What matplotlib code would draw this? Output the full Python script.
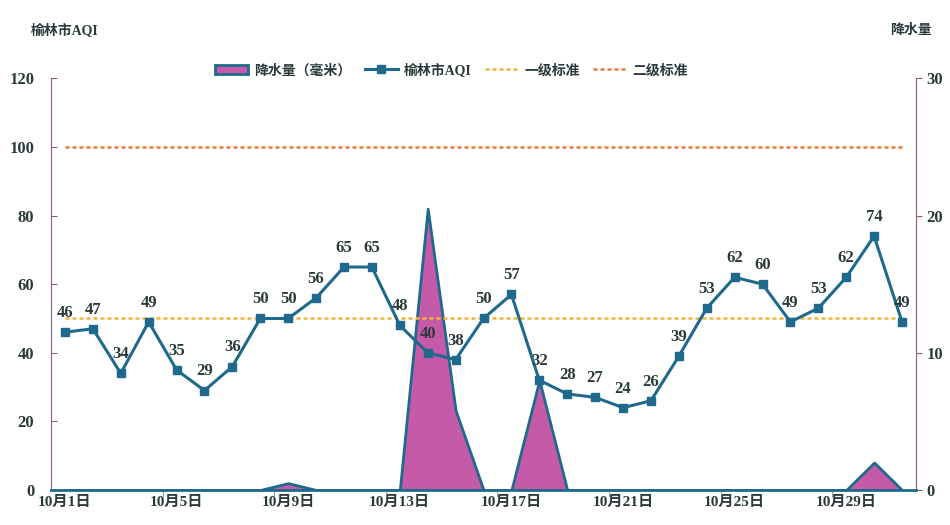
"""榆林市10月AQI与降水量对比图."""

import matplotlib.patches as mpatches
import matplotlib.pyplot as plt
import numpy as np

# 数据
dias = list(range(1, 32))
aqi = [46, 47, 34, 49, 35, 29, 36, 50, 50, 56, 65, 65, 48, 40, 38, 50,
       57, 32, 28, 27, 24, 26, 39, 53, 62, 60, 49, 53, 62, 74, 49]
chuva = [0, 0, 0, 0, 0, 0, 0, 0, 0.5, 0, 0, 0, 0, 20.5, 5.8, 0,
         0, 8.0, 0, 0, 0, 0, 0, 0, 0, 0, 0, 0, 0, 2.0, 0]
padrao_1 = [50] * 31
padrao_2 = [100] * 31
dias_rotulo = [1, 5, 9, 13, 17, 21, 25, 29]
rotulos_x = [f"10月{d}日" for d in dias_rotulo]

plt.rcParams["font.family"] = ["Liberation Serif", "Noto Sans CJK SC", "DejaVu Sans"]
plt.rcParams["font.weight"] = "bold"

cor_linha = "#1f6a8c"
cor_area = "#c45aa8"
cor_texto = "#2a3a3a"


def main() -> None:
    fig = plt.figure(figsize=(9.5, 5.25), dpi=100)
    ax1 = fig.add_axes([0.0537, 0.0667, 0.9105, 0.784])
    ax2 = ax1.twinx()

    # 降水量面积图放在底层
    ax2.fill_between(dias, chuva, color=cor_area, edgecolor=cor_linha,
                     linewidth=2.0, zorder=1)
    ax2.set_ylim(0, 30)
    ax2.set_yticks([0, 10, 20, 30])
    ax1.set_zorder(ax2.get_zorder() + 1)
    ax1.patch.set_visible(False)

    ax1.plot(dias, padrao_1, color="#f2b53a", linestyle=(0, (1.6, 1.2)),
             linewidth=1.8, label="一级标准", zorder=2)
    ax1.plot(dias, padrao_2, color="#ec7a35", linestyle=(0, (1.6, 1.2)),
             linewidth=1.8, label="二级标准", zorder=2)
    ax1.plot(dias, aqi, color=cor_linha, marker="s", markersize=6,
             linewidth=2.2, label="榆林市AQI", zorder=3)

    for d, v in zip(dias, aqi):
        ax1.annotate(str(v), (d, v), xytext=(0, 8), textcoords="offset points",
                     ha="center", va="bottom", fontsize=12, color=cor_texto,
                     zorder=4)

    ax1.set_xlim(0.5, 31.5)
    ax1.set_ylim(0, 120)
    ax1.set_yticks(range(0, 121, 20))
    ax1.set_xticks(dias_rotulo)
    ax1.set_xticklabels(rotulos_x)
    ax1.set_xticks(np.arange(4.5, 31, 4), minor=True)
    ax1.tick_params(axis="x", which="major", length=0, labelsize=11,
                    colors=cor_texto, pad=4)
    ax1.tick_params(axis="x", which="minor", length=5, color="#7a8a90",
                    direction="out")
    ax1.tick_params(axis="y", direction="in", length=4, labelsize=12,
                    colors=cor_texto, pad=12)
    ax2.tick_params(axis="y", direction="out", length=4, labelsize=12,
                    colors=cor_texto)

    for ax in (ax1, ax2):
        ax.spines["top"].set_visible(False)
    ax1.spines["left"].set_color("#8a5a82")
    ax1.spines["right"].set_visible(False)
    ax2.spines["right"].set_color("#8a5a6a")
    ax2.spines["left"].set_visible(False)
    ax1.spines["bottom"].set_color(cor_linha)
    ax1.spines["bottom"].set_linewidth(2)
    ax2.spines["bottom"].set_visible(False)
    ax1.tick_params(axis="y", color="#8a5a82")
    ax2.tick_params(axis="y", color="#8a5a6a")

    fig.text(0.032, 0.935, "榆林市AQI", fontsize=10, color=cor_texto)
    fig.text(0.937, 0.935, "降水量", fontsize=10, color=cor_texto)

    # 图例
    handles, labels = ax1.get_legend_handles_labels()
    area = mpatches.Patch(facecolor=cor_area, edgecolor=cor_linha,
                          linewidth=2, label="降水量（毫米）")
    ordem = [area, handles[2], handles[0], handles[1]]
    fig.legend(handles=ordem, loc="center", bbox_to_anchor=(0.475, 0.866),
               ncol=4, frameon=False, fontsize=10, handlelength=2.4,
               columnspacing=1.0, handletextpad=0.4,
               labelcolor=cor_texto)

    fig.savefig("out.png", dpi=100)
    plt.close(fig)


if __name__ == "__main__":
    main()
